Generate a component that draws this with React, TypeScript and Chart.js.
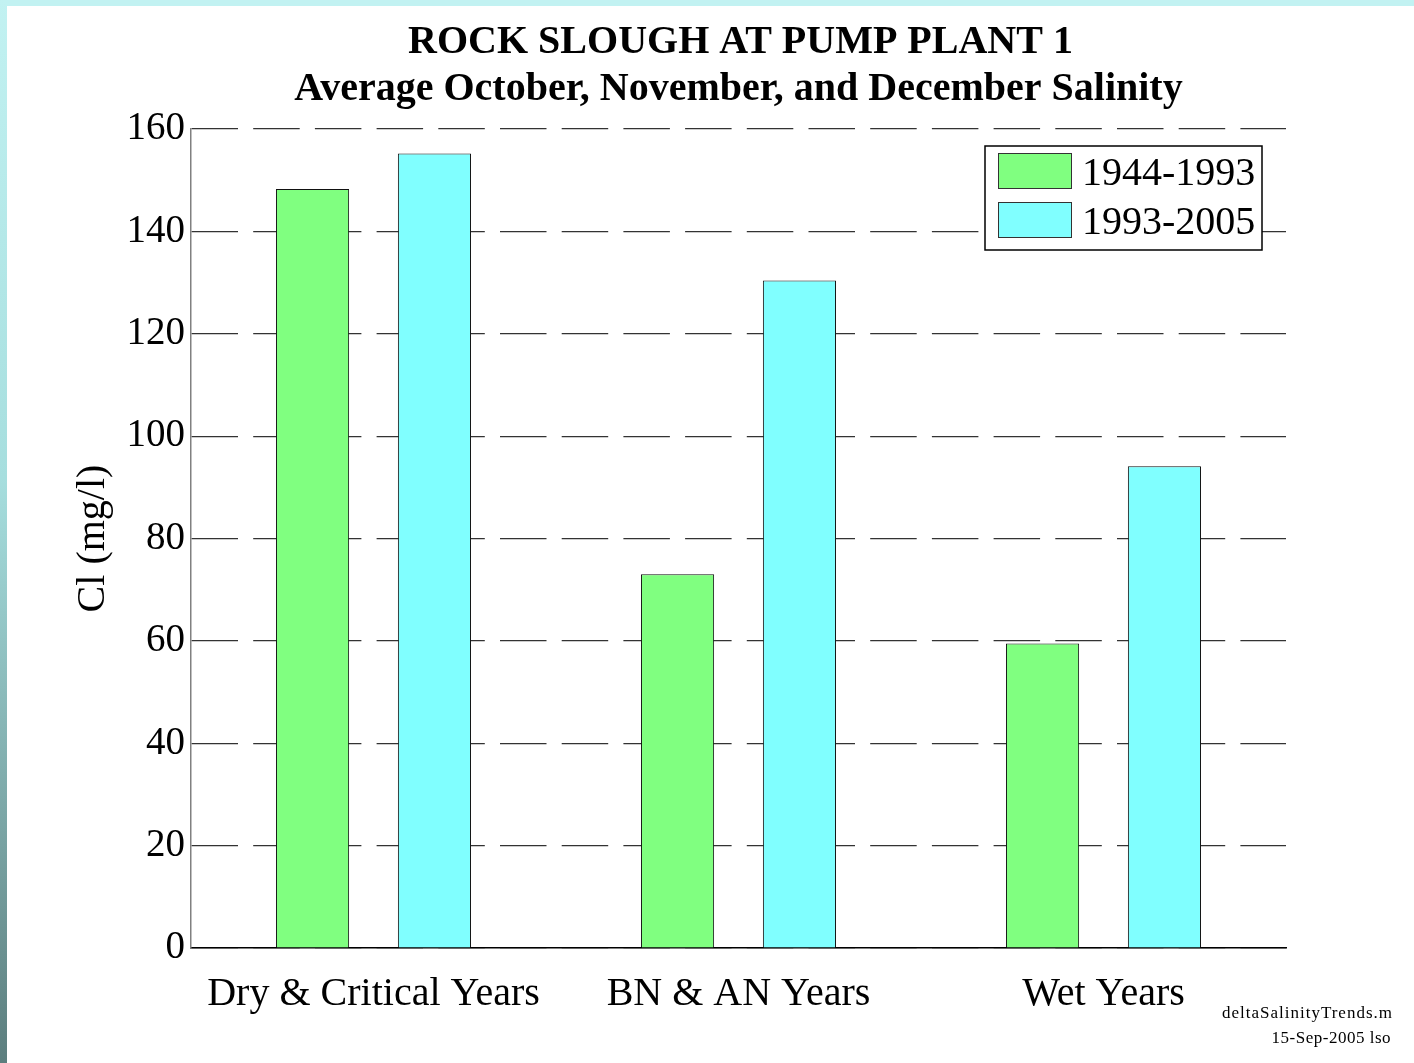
import React, { useEffect, useRef } from "react";
import { Chart, registerables } from "chart.js";

Chart.register(...registerables);

const categories = ["Dry & Critical Years", "BN & AN Years", "Wet Years"];
const seriesLabels = ["1944-1993", "1993-2005"];
const values1944to1993 = [148.3, 73.0, 59.5];
const values1993to2005 = [155.2, 130.4, 94.1];
const yMin = 0;
const yMax = 160;
const yStep = 20;
const titleLines = [
  "ROCK SLOUGH AT PUMP PLANT 1",
  "Average October, November, and December Salinity",
];
const yAxisTitle = "Cl (mg/l)";
const footerLines = ["deltaSalinityTrends.m", "15-Sep-2005 lso"];
const seriesColors = ["#80ff80", "#80ffff"];

const SERIF = "'Liberation Serif', 'Times New Roman', serif";

const decorPlugin = {
  id: "decor",
  beforeDraw(chart: any) {
    const { ctx, width, height } = chart;
    ctx.save();
    ctx.fillStyle = "#ffffff";
    ctx.fillRect(0, 0, width, height);
    ctx.fillStyle = "#c2f2f2";
    ctx.fillRect(0, 0, width, 6);
    const g = ctx.createLinearGradient(0, 0, 0, height);
    g.addColorStop(0, "#c2f2f2");
    g.addColorStop(0.45, "#a6dede");
    g.addColorStop(1, "#5c7e7e");
    ctx.fillStyle = g;
    ctx.fillRect(0, 0, 7, height);
    ctx.restore();
  },
  afterDraw(chart: any) {
    const { ctx, chartArea } = chart;
    const cx = (chartArea.left + chartArea.right) / 2;
    ctx.save();
    ctx.fillStyle = "#000";
    // Title
    ctx.font = `bold 40px ${SERIF}`;
    ctx.textAlign = "center";
    ctx.textBaseline = "alphabetic";
    ctx.fillText(titleLines[0], cx + 2, 53);
    ctx.fillText(titleLines[1], cx, 100);

    // Y axis title
    ctx.save();
    ctx.translate(104, (chartArea.top + chartArea.bottom) / 2);
    ctx.rotate(-Math.PI / 2);
    ctx.font = `40px ${SERIF}`;
    ctx.textAlign = "center";
    ctx.textBaseline = "alphabetic";
    ctx.fillText(yAxisTitle, 0, 0);
    ctx.restore();

    // Legend
    const bx = chartArea.right - 301;
    const by = chartArea.top + 17;
    const bw = 277;
    const bh = 104;
    ctx.fillStyle = "#fff";
    ctx.fillRect(bx, by, bw, bh);
    ctx.strokeStyle = "#000";
    ctx.lineWidth = 1.5;
    ctx.strokeRect(bx, by, bw, bh);
    ctx.font = `40px ${SERIF}`;
    ctx.textAlign = "left";
    ctx.textBaseline = "middle";
    chart.data.datasets.forEach((ds: any, i: number) => {
      const sy = by + 7 + i * 49;
      ctx.fillStyle = ds.backgroundColor;
      ctx.fillRect(bx + 13, sy, 74, 36);
      ctx.strokeStyle = "#333";
      ctx.lineWidth = 1;
      ctx.strokeRect(bx + 13.5, sy + 0.5, 73, 35);
      ctx.fillStyle = "#000";
      ctx.fillText(ds.label, bx + 97, sy + 21);
    });

    // Footer
    ctx.font = `17px ${SERIF}`;
    ctx.textAlign = "right";
    ctx.textBaseline = "alphabetic";
    (ctx as any).letterSpacing = "1px";
    ctx.fillText(footerLines[0], 1393, 1018);
    (ctx as any).letterSpacing = "0.5px";
    ctx.fillText(footerLines[1], 1391, 1043);
    (ctx as any).letterSpacing = "0px";
    ctx.restore();
  },
};

export default function App() {
  const ref = useRef<HTMLCanvasElement>(null);
  useEffect(() => {
    if (!ref.current) return;
    const chart = new Chart(ref.current, {
      type: "bar",
      data: {
        labels: categories,
        datasets: [
          {
            label: seriesLabels[0],
            data: values1944to1993,
            backgroundColor: seriesColors[0],
            borderColor: "#111",
            borderWidth: 1,
            categoryPercentage: 0.668,
            barPercentage: 0.6,
          },
          {
            label: seriesLabels[1],
            data: values1993to2005,
            backgroundColor: seriesColors[1],
            borderColor: "#111",
            borderWidth: 1,
            categoryPercentage: 0.668,
            barPercentage: 0.6,
          },
        ],
      },
      options: {
        responsive: false,
        animation: false,
        layout: { padding: { top: 129, right: 128, bottom: 0, left: 0 } },
        plugins: {
          legend: { display: false },
          title: { display: false },
          tooltip: { enabled: false },
        },
        scales: {
          x: {
            type: "category",
            offset: true,
            grid: { display: false, drawTicks: false },
            border: { display: true, color: "#000", width: 1.5 },
            ticks: {
              color: "#000",
              font: { family: SERIF, size: 40 },
              padding: 22,
              maxRotation: 0,
            },
            afterFit: (s: any) => {
              s.height = 115;
            },
          },
          y: {
            min: yMin,
            max: yMax,
            grid: { color: "#333", lineWidth: 1.2, drawTicks: false },
            border: { display: true, color: "#808080", width: 1.5, dash: [46.5, 15.2] },
            ticks: {
              stepSize: yStep,
              color: "#000",
              font: { family: SERIF, size: 39 },
              padding: 6,
            },
            afterFit: (s: any) => {
              s.width = 191;
            },
          },
        },
      },
      plugins: [decorPlugin],
    });
    return () => chart.destroy();
  }, []);
  return (
    <div style={{ position: "fixed", left: 0, top: 0, width: 1414, height: 1063 }}>
      <canvas ref={ref} width={1414} height={1063} style={{ display: "block" }} />
    </div>
  );
}
